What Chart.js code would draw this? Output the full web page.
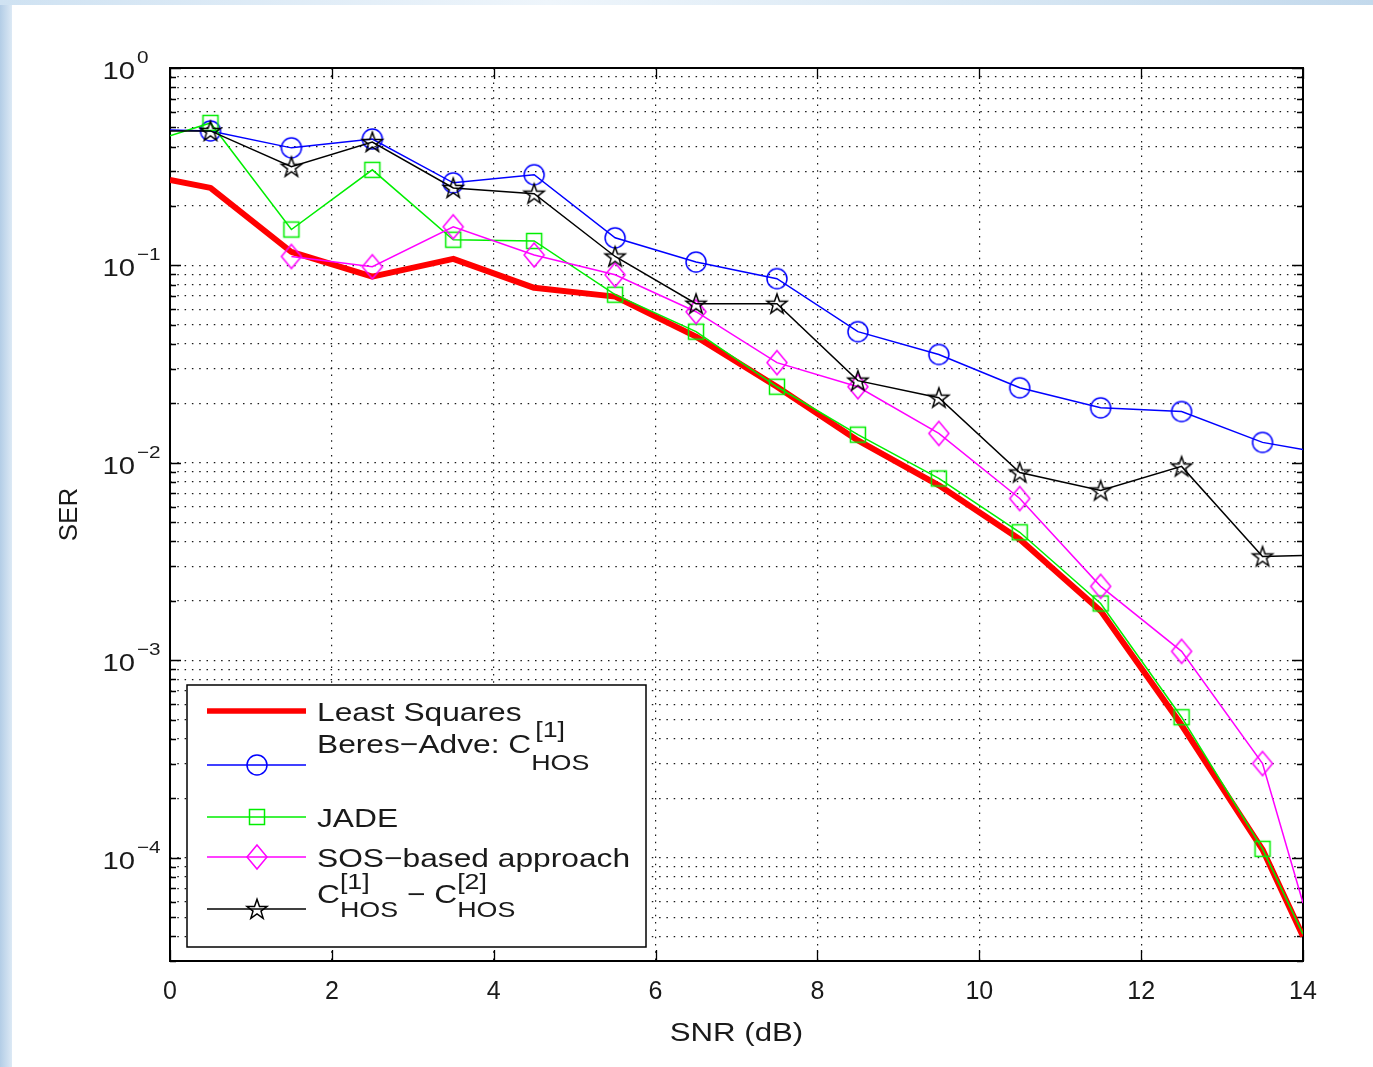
<!DOCTYPE html>
<html><head><meta charset="utf-8">
<script src="https://cdn.jsdelivr.net/npm/chart.js@4.4.1/dist/chart.umd.min.js"></script>
<style>
html,body{margin:0;padding:0;background:#fff;}
#wrap{position:relative;width:1373px;height:1067px;overflow:hidden;background:#fff;}
#edgeL{position:absolute;left:0;top:0;width:12px;height:1067px;background:linear-gradient(to right,#b3cde6,#dce9f5);}
#edgeT{position:absolute;left:0;top:0;width:1373px;height:5px;background:linear-gradient(to right,#cfe2f2,#eef5fb 40%,#d9e8f4 70%,#c3d9ec);}
canvas{position:absolute;left:0;top:0;}
</style></head><body>
<div id="wrap"><div id="edgeL"></div><div id="edgeT"></div><canvas id="c" width="1373" height="1067"></canvas></div>
<script>
// ---- data ----
const snr = [0, 0.5, 1.5, 2.5, 3.5, 4.5, 5.5, 6.5, 7.5, 8.5, 9.5, 10.5, 11.5, 12.5, 13.5, 14];
const leastSquares = [0.271, 0.247, 0.117, 0.0877, 0.108, 0.077, 0.0695, 0.0436, 0.0243, 0.0130, 0.0077, 0.0041, 0.00178, 0.00047, 0.000110, 0.000040];
const beresAdve    = [0.485, 0.48, 0.394, 0.437, 0.262, 0.288, 0.138, 0.104, 0.0857, 0.0462, 0.0354, 0.0240, 0.0190, 0.0182, 0.0127, 0.0117];
const jade         = [0.453, 0.527, 0.152, 0.305, 0.135, 0.133, 0.0711, 0.0462, 0.0243, 0.0139, 0.00834, 0.00445, 0.00194, 0.000515, 0.000111, 0.000041];
const sosBased     = [null, null, 0.111, 0.0985, 0.157, 0.113, 0.0897, 0.0583, 0.0322, 0.0243, 0.0141, 0.0066, 0.00237, 0.00111, 0.00030, 0.000059];
const chosDiff     = [0.48, 0.48, 0.316, 0.422, 0.247, 0.231, 0.111, 0.064, 0.064, 0.0261, 0.0214, 0.00894, 0.00725, 0.0096, 0.00336, 0.0034];
const seriesNames = ['Least Squares', 'Beres\u2212Adve: C', 'JADE', 'SOS\u2212based approach', 'C'];
const xTickStep = 2, xMin = 0, xMax = 14;
const yMin = 3e-5, yMax = 1;
const yMajorExps = [0, -1, -2, -3, -4];
const xTitle = 'SNR (dB)', yTitle = 'SER';

// log-scale tick values (1..9 x 10^n)
const yTickValues = [];
for (let e = -5; e <= 0; e++) for (let m = 1; m <= 9; m++) {
  const v = parseFloat((m * Math.pow(10, e)).toPrecision(6));
  if (v >= yMin - 1e-12 && v <= yMax + 1e-12) yTickValues.push(v);
}

// ---- marker images ----
function mkCanvas(draw){ const c=document.createElement('canvas'); c.width=30; c.height=30; const g=c.getContext('2d'); g.lineWidth=1.5; draw(g); return c; }
const circleImg = mkCanvas(g=>{ g.strokeStyle='#0000ff'; g.beginPath(); g.arc(15,15,10,0,Math.PI*2); g.stroke(); });
const squareImg = mkCanvas(g=>{ g.strokeStyle='#00ee00'; g.strokeRect(7.5,7.5,15,15); });
const diamondImg = mkCanvas(g=>{ g.strokeStyle='#ff00ff'; g.beginPath(); g.moveTo(15,3); g.lineTo(25,15); g.lineTo(15,27); g.lineTo(5,15); g.closePath(); g.stroke(); });
const starImg = mkCanvas(g=>{ g.strokeStyle='#000'; g.lineWidth=1.5; g.beginPath();
  for(let k=0;k<10;k++){ const a=-Math.PI/2+k*Math.PI/5; const r=k%2?4.2:10.5; const px=15+r*Math.cos(a), py=15.8+r*Math.sin(a); k?g.lineTo(px,py):g.moveTo(px,py);} g.closePath(); g.stroke(); });

const toXY = arr => snr.map((x,i)=>({x, y: arr[i]}));
const markerR = c => { const x = snr[c.dataIndex]; return (x > xMin && x < xMax) ? 10 : 0; };

const FONT = 'Liberation Sans, Arial, sans-serif';
const SX = 1.22;
function txt(ctx, s, x, y, size, align, sx){
  ctx.save(); ctx.font = size+'px '+FONT; ctx.fillStyle='#1a1a1a'; ctx.textBaseline='alphabetic';
  ctx.translate(x,y); ctx.scale(sx||SX,1); ctx.textAlign=align||'left'; ctx.fillText(s,0,0);
  const w = ctx.measureText(s).width*(sx||SX); ctx.restore(); return w;
}

const axesPlugin = {
  id:'matlabAxes',
  beforeDatasetsDraw(chart){
    const {ctx, chartArea:a, scales:{x,y}} = chart;
    ctx.save(); ctx.strokeStyle='#000'; ctx.lineWidth=1.3; ctx.beginPath();
    x.ticks.forEach(t=>{ const p=Math.round(x.getPixelForValue(t.value))+0.5;
      ctx.moveTo(p,a.bottom); ctx.lineTo(p,a.bottom-11); ctx.moveTo(p,a.top); ctx.lineTo(p,a.top+11); });
    y.ticks.forEach(t=>{ const p=Math.round(y.getPixelForValue(t.value))+0.5; const L=t.major?11:6;
      ctx.moveTo(a.left,p); ctx.lineTo(a.left+L,p); ctx.moveTo(a.right,p); ctx.lineTo(a.right-L,p); });
    ctx.stroke();
    ctx.lineWidth=2; ctx.strokeRect(a.left,a.top,a.right-a.left,a.bottom-a.top);
    ctx.restore();
  },
  afterDraw(chart){
    const {ctx, chartArea:a, scales:{y}} = chart;
    // y tick labels 10^n
    yMajorExps.forEach(e=>{
      const p = y.getPixelForValue(Math.pow(10,e));
      txt(ctx,'10',a.left-35,p+11,24,'right');
      txt(ctx,e<0?('\u2212'+(-e)):String(e),a.left-33,p-5,17,'left');
    });
    // axis titles
    txt(ctx,xTitle,(a.left+a.right)/2,1041,26,'center',1.2);
    ctx.save(); ctx.translate(77,(a.top+a.bottom)/2); ctx.rotate(-Math.PI/2);
    ctx.font='26px '+FONT; ctx.fillStyle='#1a1a1a'; ctx.textAlign='center'; ctx.fillText(yTitle,0,0); ctx.restore();
    // legend
    const L=a.left+17, T=a.bottom-276, W=459, H=262;
    ctx.save(); ctx.fillStyle='#fff'; ctx.fillRect(L,T,W,H); ctx.strokeStyle='#000'; ctx.lineWidth=1.5; ctx.strokeRect(L,T,W,H); ctx.restore();
    const entries=[
      {color:'#ff0000', w:5.5, img:null, ly:26, ty:36},
      {color:'#0000ff', w:1.5, img:circleImg, ly:80, ty:68},
      {color:'#00ee00', w:1.5, img:squareImg, ly:132, ty:142},
      {color:'#ff00ff', w:1.5, img:diamondImg, ly:172, ty:182},
      {color:'#000000', w:1.5, img:starImg, ly:224, ty:218}
    ];
    entries.forEach((en,i)=>{
      ctx.save(); ctx.strokeStyle=en.color; ctx.lineWidth=en.w; ctx.beginPath();
      ctx.moveTo(L+20,T+en.ly); ctx.lineTo(L+119,T+en.ly); ctx.stroke(); ctx.restore();
      if(en.img) ctx.drawImage(en.img, L+70-15, T+en.ly-15);
      const tx=L+130, by=T+en.ty;
      if(i===1){
        let w=txt(ctx,seriesNames[1],tx,by,26,'left');
        txt(ctx,'[1]',tx+w+4,by-16,22,'left'); txt(ctx,'HOS',tx+w,by+17,22,'left');
      } else if(i===4){
        let x0=tx; let w=txt(ctx,'C',x0,by,26,'left'); x0+=w;
        txt(ctx,'[1]',x0,by-14,22,'left'); let ws=txt(ctx,'HOS',x0,by+14,22,'left'); x0+=ws;
        w=txt(ctx,' \u2212 ',x0,by,26,'left'); x0+=w;
        w=txt(ctx,'C',x0,by,26,'left'); x0+=w;
        txt(ctx,'[2]',x0,by-14,22,'left'); txt(ctx,'HOS',x0,by+14,22,'left');
      } else {
        txt(ctx,seriesNames[i],tx,by,26,'left');
      }
    });
  }
};

const gridDash=[1.5,5.8];
new Chart(document.getElementById('c'),{
  type:'line',
  data:{datasets:[
    {label:seriesNames[0], data:toXY(leastSquares), borderColor:'#ff0000', borderWidth:6, pointRadius:0, borderJoinStyle:'round', order:5},
    {label:seriesNames[1], data:toXY(beresAdve), borderColor:'#0000ff', borderWidth:1.5, pointStyle:circleImg, pointRadius:markerR, order:4},
    {label:seriesNames[2], data:toXY(jade), borderColor:'#00ee00', borderWidth:1.5, pointStyle:squareImg, pointRadius:markerR, order:3},
    {label:seriesNames[3], data:toXY(sosBased), borderColor:'#ff00ff', borderWidth:1.5, pointStyle:diamondImg, pointRadius:markerR, order:2},
    {label:seriesNames[4], data:toXY(chosDiff), borderColor:'#000000', borderWidth:1.5, pointStyle:starImg, pointRadius:markerR, order:1}
  ]},
  options:{
    responsive:false, animation:false, events:[],
    layout:{padding:{left:0,top:68,right:70,bottom:0}},
    elements:{line:{tension:0}},
    plugins:{legend:{display:false}, tooltip:{enabled:false}},
    scales:{
      x:{type:'linear', min:xMin, max:xMax,
        ticks:{stepSize:xTickStep, color:'#1a1a1a', font:{family:FONT,size:25}, padding:16, maxRotation:0},
        grid:{color:'rgba(0,0,0,0.9)', lineWidth:1.2, drawTicks:false},
        border:{display:false, dash:gridDash},
        afterFit(s){ s.height=106; }},
      y:{type:'logarithmic', min:yMin, max:yMax,
        ticks:{display:false},
        grid:{color:'rgba(0,0,0,0.9)', lineWidth:1.2, drawTicks:false},
        border:{display:false, dash:gridDash},
        afterBuildTicks(s){ s.ticks = yTickValues.map(v=>({value:v, major: Math.abs(Math.log10(v)-Math.round(Math.log10(v)))<1e-9})); },
        afterFit(s){ s.width=170; }}
    }
  },
  plugins:[axesPlugin]
});
</script>
</body></html>
